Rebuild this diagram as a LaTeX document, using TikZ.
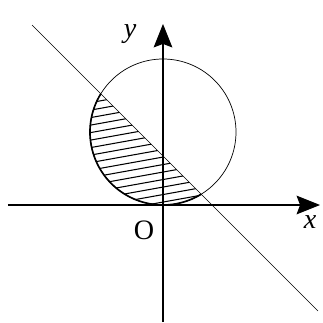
\documentclass[tikz,border=0pt]{standalone}
\usepackage{fontspec}
\setmainfont{Liberation Serif}
\usetikzlibrary{arrows.meta}
\begin{document}
\begin{tikzpicture}[x=0.03cm,y=0.03cm,
  axis/.style={line width=0.9pt,-{Stealth[length=20pt,width=16pt,inset=3pt]}},
  thin/.style={line width=0.6pt},
  lbl/.style={font=\fontsize{24}{24}\selectfont, inner sep=0pt}]
\useasboundingbox (0,0) rectangle (323,322);
\fill[white] (0,0) rectangle (323,322);
\coordinate (O) at (163,117);
\coordinate (C) at (163,190);
\coordinate (xs) at (8,117);
\coordinate (xe) at (320,117);
\coordinate (ys) at (163,0);
\coordinate (ye) at (163,298);
\coordinate (ls) at (32,297);
\coordinate (le) at (318,11);
% hatched region
\begin{scope}
  \clip (C) ++(148.45:73) arc[start angle=148.45,end angle=301.55,radius=73] -- cycle;
  \foreach \c in {-60,-52.5,...,260} {
    \draw[line width=0.9pt] (80,\c) -- (240,\c+28.8);
  }
\end{scope}
\draw[line width=1.4pt] (C) ++(148.45:73) arc[start angle=148.45,end angle=301.55,radius=73];
\draw[thin] (C) circle[radius=73];
\draw[thin] (ls) -- (le);
\draw[axis] (xs) -- (xe);
\draw[axis] (ys) -- (ye);
\node[lbl,font=\fontsize{24}{24}\selectfont\itshape] (ylab) at (130,288) {y};
\node[lbl,font=\fontsize{24}{24}\selectfont\itshape] (xlab) at (310,100) {x};
\node[lbl] (olab) at (144,92) {O};
\end{tikzpicture}
\end{document}
